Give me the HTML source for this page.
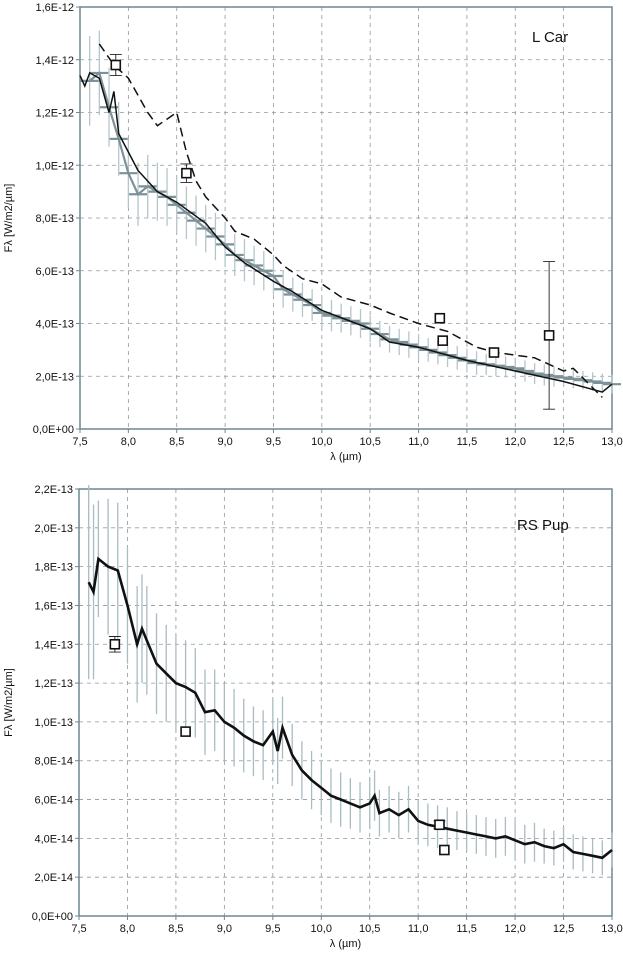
<!DOCTYPE html>
<html><head><meta charset="utf-8"><style>
html,body{margin:0;padding:0;background:#fff;}
svg{display:block;font-family:"Liberation Sans",Arial,sans-serif;}
</style></head><body>
<svg id="s" width="623" height="959" viewBox="0 0 623 959"></svg>
<script>
// ---- Top chart (L Car), units 1E-12 ----
const topGrayX=[7.6,7.7,7.8,7.9,8.0,8.1,8.2,8.3,8.4,8.5,8.6,8.7,8.8,8.9,9.0,9.1,9.2,9.3,9.4,9.5,9.6,9.7,9.8,9.9,10.0,10.1,10.2,10.3,10.4,10.5,10.6,10.7,10.8,10.9,11.0,11.1,11.2,11.3,11.4,11.5,11.6,11.7,11.8,11.9,12.0,12.1,12.2,12.3,12.4,12.5,12.6,12.7,12.8,12.9,13.0];
const topGrayY=[1.32,1.35,1.22,1.10,0.97,0.89,0.92,0.90,0.88,0.85,0.82,0.79,0.76,0.73,0.70,0.66,0.64,0.62,0.60,0.58,0.53,0.51,0.49,0.47,0.44,0.43,0.42,0.41,0.40,0.38,0.36,0.34,0.33,0.32,0.31,0.30,0.29,0.28,0.27,0.26,0.25,0.245,0.24,0.235,0.23,0.22,0.21,0.205,0.20,0.195,0.19,0.185,0.18,0.175,0.17];
const topGrayErr=[0.17,0.16,0.15,0.14,0.13,0.12,0.12,0.11,0.11,0.1,0.1,0.095,0.09,0.09,0.085,0.08,0.08,0.075,0.075,0.07,0.07,0.065,0.065,0.06,0.06,0.06,0.055,0.055,0.055,0.05,0.05,0.05,0.05,0.05,0.05,0.045,0.045,0.045,0.045,0.045,0.045,0.04,0.04,0.04,0.04,0.04,0.04,0.04,0.04,0.035,0.035,0.035,0.035,0.035,0.035];
const topSolidX=[7.5,7.55,7.6,7.7,7.8,7.85,7.9,8.0,8.1,8.3,8.5,8.8,9.0,9.2,9.5,9.7,10.0,10.5,10.7,11.0,11.5,12.0,12.5,12.9,13.0];
const topSolidY=[1.34,1.30,1.35,1.33,1.20,1.28,1.12,1.05,0.98,0.90,0.86,0.78,0.69,0.63,0.56,0.52,0.45,0.38,0.33,0.31,0.26,0.22,0.18,0.14,0.17];
const topDashX=[7.7,7.85,8.0,8.2,8.3,8.5,8.6,8.7,8.8,9.0,9.1,9.3,9.5,9.6,9.8,10.0,10.2,10.5,10.7,11.0,11.3,11.6,11.8,12.2,12.5,12.6,12.9];
const topDashY=[1.46,1.38,1.33,1.20,1.15,1.20,1.05,0.94,0.88,0.80,0.75,0.72,0.66,0.62,0.57,0.55,0.50,0.47,0.44,0.40,0.37,0.31,0.29,0.27,0.22,0.23,0.12];
const topSqX=[7.87,8.6,11.22,11.25,11.78,12.35];
const topSqY=[1.38,0.97,0.42,0.335,0.29,0.355];
const topSqErr=[0.04,0.035,0,0,0,0.28];
const topTicks=["0,0E+00","2,0E-13","4,0E-13","6,0E-13","8,0E-13","1,0E-12","1,2E-12","1,4E-12","1,6E-12"];
// ---- Bottom chart (RS Pup), units 1E-13 ----
const botX=[7.6,7.65,7.7,7.8,7.9,8.0,8.1,8.15,8.2,8.3,8.4,8.5,8.6,8.7,8.8,8.9,9.0,9.1,9.2,9.3,9.4,9.5,9.55,9.6,9.7,9.8,9.9,10.0,10.1,10.2,10.3,10.4,10.5,10.55,10.6,10.7,10.8,10.9,11.0,11.1,11.2,11.3,11.4,11.5,11.6,11.7,11.8,11.9,12.0,12.1,12.2,12.3,12.4,12.5,12.6,12.7,12.8,12.9,13.0];
const botY=[1.72,1.67,1.84,1.80,1.78,1.60,1.40,1.48,1.42,1.30,1.25,1.20,1.18,1.15,1.05,1.06,1.00,0.97,0.93,0.90,0.88,0.95,0.85,0.97,0.83,0.75,0.70,0.66,0.62,0.60,0.58,0.56,0.58,0.62,0.53,0.55,0.52,0.55,0.49,0.47,0.46,0.45,0.44,0.43,0.42,0.41,0.40,0.41,0.39,0.37,0.38,0.36,0.35,0.37,0.33,0.32,0.31,0.30,0.34];
const botErr=[0.5,0.45,0.3,0.35,0.35,0.3,0.3,0.28,0.28,0.26,0.25,0.25,0.24,0.23,0.22,0.21,0.2,0.2,0.19,0.18,0.18,0.17,0.17,0.16,0.16,0.15,0.15,0.14,0.14,0.14,0.13,0.13,0.13,0.13,0.12,0.12,0.12,0.12,0.11,0.11,0.11,0.11,0.1,0.1,0.1,0.1,0.1,0.1,0.1,0.1,0.1,0.09,0.09,0.09,0.09,0.09,0.09,0.09,0.09];
const botSqX=[7.87,8.6,11.22,11.27];
const botSqY=[1.40,0.95,0.47,0.34];
const botSqErr=[0.04,0,0.02,0];
const botTicks=["0,0E+00","2,0E-14","4,0E-14","6,0E-14","8,0E-14","1,0E-13","1,2E-13","1,4E-13","1,6E-13","1,8E-13","2,0E-13","2,2E-13"];
const xTicks=["7,5","8,0","8,5","9,0","9,5","10,0","10,5","11,0","11,5","12,0","12,5","13,0"];

const NS="http://www.w3.org/2000/svg";
const svg=document.getElementById('s');
function mk(tag,attrs,parent){const e=document.createElementNS(NS,tag);for(const k in attrs)e.setAttribute(k,attrs[k]);(parent||svg).appendChild(e);return e;}
function path(pts){return pts.map((p,i)=>(i?'L':'M')+p[0].toFixed(1)+' '+p[1].toFixed(1)).join(' ');}

function panel(cfg){
  const g=mk('g',{});
  
  
  const sx=v=>cfg.x0+(v-7.5)/5.5*(cfg.x1-cfg.x0);
  const ymax=(cfg.ticks.length-1)*cfg.step;
  const sy=v=>cfg.y0-v/ymax*(cfg.y0-cfg.y1);
  // grid
  for(let i=1;i<xTicks.length;i++){const x=sx(7.5+i*0.5);const l=mk('line',{x1:x,x2:x,y1:cfg.y1,y2:cfg.y0,stroke:'#8a9aa2','stroke-width':0.8,'stroke-dasharray':'4,4'},g);}
  for(let i=1;i<cfg.ticks.length;i++){const y=sy(i*cfg.step);const l=mk('line',{x1:cfg.x0,x2:cfg.x1,y1:y,y2:y,stroke:'#8a9aa2','stroke-width':0.8,'stroke-dasharray':'4,4'},g);}
  // frame
  const fr=mk('rect',{x:cfg.x0,y:cfg.y1,width:cfg.x1-cfg.x0,height:cfg.y0-cfg.y1,fill:'none',stroke:'#6f8790','stroke-width':1.5},g);
  
  // ticks
  cfg.ticks.forEach((t,i)=>{const y=sy(i*cfg.step);mk('line',{x1:cfg.x0-4,x2:cfg.x0,y1:y,y2:y,stroke:'#6f8790','stroke-width':1},g);
    const tx=mk('text',{x:cfg.x0-6,y:y+4,'text-anchor':'end','font-size':11,fill:'#111'},g);tx.textContent=t;
    });
  xTicks.forEach((t,i)=>{const x=sx(7.5+i*0.5);mk('line',{x1:x,x2:x,y1:cfg.y0,y2:cfg.y0+4,stroke:'#6f8790','stroke-width':1},g);
    const tx=mk('text',{x:x,y:cfg.y0+16,'text-anchor':'middle','font-size':11,fill:'#111'},g);tx.textContent=t;
    });
  const xt=mk('text',{x:(cfg.x0+cfg.x1)/2,y:cfg.y0+31,'text-anchor':'middle','font-size':11,fill:'#111'},g);xt.textContent='λ (µm)';
  
  const yt=mk('text',{x:0,y:0,'text-anchor':'middle','font-size':11,fill:'#111',transform:`translate(12,${(cfg.y0+cfg.y1)/2}) rotate(-90)`},g);yt.textContent='Fλ [W/m2/µm]';
  
  const tl=mk('text',{x:cfg.titleX,y:cfg.titleY,'text-anchor':'start','font-size':15,fill:'#111'},g);tl.textContent=cfg.title;
  
  return {g,sx,sy};
}

function errBars(p,xs,ys,es,cap,color,name){
  xs.forEach((x,i)=>{const X=p.sx(x);
    const l=mk('line',{x1:X,x2:X,y1:p.sy(ys[i]-es[i]),y2:p.sy(ys[i]+es[i]),stroke:color,'stroke-width':1.3},p.g);
    
    if(cap){const c=mk('line',{x1:X-cap,x2:X+cap,y1:p.sy(ys[i]),y2:p.sy(ys[i]),stroke:'#7d9198','stroke-width':2.2},p.g);
      }
  });
}
function line(p,xs,ys,attrs,name){const l=mk('path',Object.assign({d:path(xs.map((x,i)=>[p.sx(x),p.sy(ys[i])])),fill:'none'},attrs),p.g);
  }
function squares(p,xs,ys,es){xs.forEach((x,i)=>{const X=p.sx(x),Y=p.sy(ys[i]);
  if(es[i]>0){const e=mk('path',{d:`M${X} ${p.sy(ys[i]-es[i])}V${p.sy(ys[i]+es[i])}M${X-6} ${p.sy(ys[i]-es[i])}h12M${X-6} ${p.sy(ys[i]+es[i])}h12`,stroke:'#222','stroke-width':0.9,fill:'none'},p.g);
    }
  const r=mk('rect',{x:X-4.5,y:Y-4.5,width:9,height:9,fill:'#fff',stroke:'#111','stroke-width':1.6},p.g);
  });}

const pt=panel({name:'l-car-chart',x0:80,x1:612,y0:429,y1:7,ticks:topTicks,step:0.2,title:'L Car',titleX:532,titleY:42});
errBars(pt,topGrayX,topGrayY,topGrayErr,9,'#b4c6cc','gray-error-bar');
line(pt,topGrayX,topGrayY,{stroke:'#7d9198','stroke-width':2.2},'spectrum-gray-line');
line(pt,topSolidX,topSolidY,{stroke:'#111','stroke-width':1.5},'model-solid-line');
line(pt,topDashX,topDashY,{stroke:'#111','stroke-width':1.5,'stroke-dasharray':'9,5'},'model-dashed-line');
squares(pt,topSqX,topSqY,topSqErr);

const pb=panel({name:'rs-pup-chart',x0:79,x1:612,y0:916,y1:489,ticks:botTicks,step:0.2,title:'RS Pup',titleX:517,titleY:530});
errBars(pb,botX,botY,botErr,0,'#a9bcc2','gray-error-bar');
line(pb,botX,botY,{stroke:'#111','stroke-width':2.6},'spectrum-line');
squares(pb,botSqX,botSqY,botSqErr);
</script>
</body></html>
